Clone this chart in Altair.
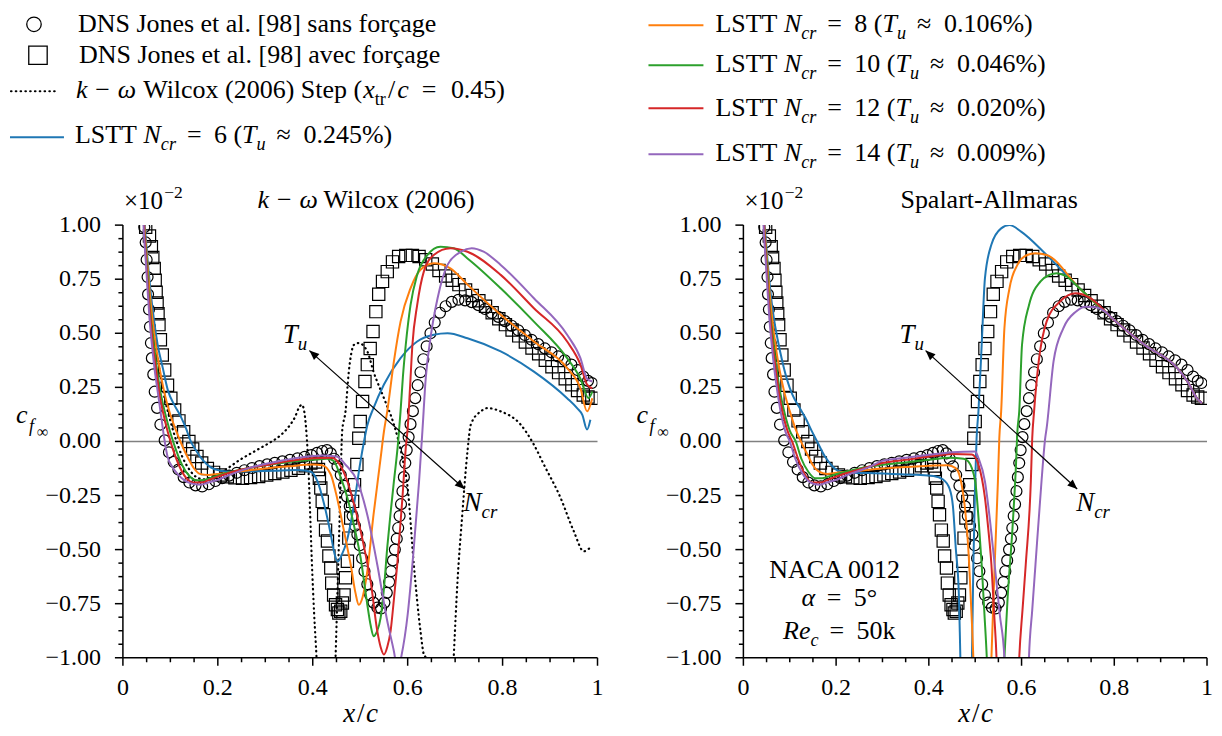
import math
import altair as alt
import pandas as pd

FONT = "Liberation Serif"
PW_L, PW_R, PH = 475, 464, 433

# ---------------- DNS Jones et al. (same in both panels) ----------------
circ_x = [0.045, 0.048, 0.050, 0.052, 0.053, 0.055, 0.057, 0.059, 0.061, 0.064, 0.067, 0.072, 0.079, 0.088,
          0.097, 0.107, 0.117, 0.128, 0.140, 0.153, 0.167, 0.181, 0.195, 0.209, 0.224, 0.240, 0.256, 0.272,
          0.288, 0.304, 0.320, 0.336, 0.352, 0.368, 0.383, 0.397, 0.409, 0.420, 0.430, 0.438, 0.445, 0.452,
          0.459, 0.466, 0.472, 0.478, 0.484, 0.489, 0.494, 0.499, 0.504, 0.509, 0.515, 0.521, 0.528, 0.536,
          0.544, 0.551, 0.556, 0.561, 0.565, 0.569, 0.573, 0.577, 0.580, 0.583, 0.586, 0.589, 0.592, 0.595,
          0.598, 0.602, 0.606, 0.611, 0.616, 0.621, 0.627, 0.633, 0.640, 0.648, 0.657, 0.668, 0.680, 0.693,
          0.707, 0.721, 0.735, 0.749, 0.763, 0.777, 0.791, 0.805, 0.819, 0.833, 0.847, 0.861, 0.875, 0.889,
          0.903, 0.917, 0.931, 0.945, 0.958, 0.970, 0.980, 0.988]
circ_y = [0.99, 0.92, 0.84, 0.76, 0.68, 0.61, 0.53, 0.455, 0.385, 0.31, 0.23, 0.155, 0.078, 0.005,
          -0.05, -0.095, -0.13, -0.165, -0.19, -0.203, -0.208, -0.198, -0.183, -0.17, -0.158, -0.145, -0.133, -0.123,
          -0.114, -0.106, -0.099, -0.092, -0.085, -0.078, -0.071, -0.063, -0.053, -0.044, -0.04, -0.055, -0.08, -0.115,
          -0.155, -0.205, -0.255, -0.30, -0.345, -0.39, -0.43, -0.48, -0.54, -0.60, -0.66, -0.71, -0.745, -0.768,
          -0.772, -0.745, -0.70, -0.65, -0.60, -0.55, -0.50, -0.45, -0.40, -0.345, -0.29, -0.23, -0.165, -0.10,
          -0.04, 0.02, 0.08, 0.14, 0.20, 0.26, 0.32, 0.38, 0.44, 0.50, 0.55, 0.595, 0.625, 0.645,
          0.655, 0.652, 0.644, 0.63, 0.612, 0.594, 0.576, 0.556, 0.535, 0.514, 0.492, 0.47, 0.45, 0.43,
          0.412, 0.393, 0.375, 0.355, 0.33, 0.30, 0.28, 0.27]

sq_x = [0.048, 0.056, 0.060, 0.063, 0.066, 0.068, 0.070, 0.072, 0.074, 0.076, 0.079, 0.083, 0.088, 0.094,
        0.101, 0.109, 0.118, 0.128, 0.139, 0.147, 0.156, 0.166, 0.178, 0.191, 0.205, 0.220, 0.236, 0.252,
        0.269, 0.286, 0.303, 0.320, 0.337, 0.354, 0.370, 0.384, 0.396, 0.406, 0.412, 0.414, 0.417, 0.420,
        0.423, 0.427, 0.431, 0.434, 0.438, 0.440, 0.444, 0.448, 0.452, 0.455, 0.459, 0.4625, 0.466, 0.469,
        0.473, 0.476, 0.480, 0.484, 0.488, 0.493, 0.497, 0.500, 0.505, 0.510, 0.515, 0.521, 0.527, 0.533,
        0.539, 0.547, 0.557, 0.568, 0.581, 0.596, 0.610, 0.624, 0.638, 0.652, 0.666, 0.680, 0.694, 0.708,
        0.722, 0.736, 0.750, 0.764, 0.778, 0.792, 0.806, 0.820, 0.834, 0.848, 0.862, 0.876, 0.890, 0.904,
        0.918, 0.932, 0.946, 0.958, 0.970, 0.980, 0.988]
sq_y = [0.99, 0.95, 0.90, 0.85, 0.80, 0.745, 0.69, 0.64, 0.59, 0.54, 0.47, 0.40, 0.33, 0.26,
        0.20, 0.145, 0.095, 0.045, 0.0, -0.035, -0.07, -0.10, -0.125, -0.143, -0.155, -0.163, -0.168, -0.17,
        -0.167, -0.162, -0.155, -0.148, -0.141, -0.133, -0.124, -0.112, -0.10, -0.095, -0.13, -0.17, -0.215, -0.277,
        -0.339, -0.41, -0.46, -0.53, -0.585, -0.655, -0.71, -0.755, -0.777, -0.793, -0.785, -0.747, -0.71, -0.63,
        -0.554, -0.447, -0.354, -0.277, -0.20, -0.107, 0.015, 0.092, 0.185, 0.277, 0.355, 0.43, 0.508, 0.60,
        0.68, 0.74, 0.785, 0.83, 0.855, 0.86, 0.86, 0.855, 0.84, 0.82, 0.79, 0.765, 0.745, 0.725,
        0.70, 0.675, 0.65, 0.625, 0.595, 0.567, 0.54, 0.515, 0.488, 0.46, 0.432, 0.405, 0.375, 0.345,
        0.318, 0.29, 0.262, 0.235, 0.215, 0.205, 0.20]

# ---------------- k-omega Wilcox (2006), left panel ----------------
step_x = [0.040, 0.046, 0.051, 0.056, 0.062, 0.069, 0.077, 0.086, 0.097, 0.110, 0.125, 0.140, 0.155, 0.170,
          0.190, 0.210, 0.230, 0.250, 0.270, 0.290, 0.310, 0.333, 0.350, 0.362, 0.372, 0.377, 0.382, 0.386,
          0.390, 0.394, 0.398, 0.403, 0.408, 0.412, 0.444, 0.448, 0.452, 0.456, 0.459, 0.462, 0.469, 0.476,
          0.487, 0.497, 0.515, 0.528, 0.550, 0.571, 0.589, 0.600, 0.613, 0.627, 0.634, 0.638, 0.642, 0.693,
          0.697, 0.705, 0.715, 0.726, 0.733, 0.754, 0.768, 0.796, 0.838, 0.866, 0.887, 0.922, 0.950, 0.971, 0.985]
step_y = [1.20, 0.97, 0.84, 0.70, 0.57, 0.45, 0.33, 0.22, 0.12, 0.02, -0.07, -0.13, -0.165, -0.175,
          -0.16, -0.14, -0.11, -0.08, -0.055, -0.03, -0.005, 0.03, 0.07, 0.11, 0.16, 0.17, 0.14, 0.06,
          -0.08, -0.30, -0.55, -0.80, -1.00, -1.20, -1.20, -1.00, -0.70, -0.40, -0.15, 0.046, 0.139, 0.323,
          0.447, 0.455, 0.416, 0.323, 0.20, 0.078, -0.077, -0.215, -0.57, -0.877, -0.985, -1.00, -1.20, -1.20,
          -1.00, -0.647, -0.34, -0.046, 0.078, 0.139, 0.154, 0.139, 0.078, -0.015, -0.107, -0.26, -0.415, -0.508, -0.49]

kw6_x = [0.040, 0.047, 0.052, 0.058, 0.065, 0.073, 0.084, 0.095, 0.108, 0.122, 0.133, 0.143, 0.155, 0.168,
         0.185, 0.205, 0.230, 0.270, 0.320, 0.370, 0.396, 0.410, 0.424, 0.438, 0.446, 0.453, 0.460, 0.473,
         0.487, 0.500, 0.508, 0.515, 0.528, 0.550, 0.585, 0.620, 0.655, 0.684, 0.726, 0.796, 0.866, 0.936,
         0.957, 0.968, 0.978, 0.985]
kw6_y = [1.20, 0.97, 0.84, 0.70, 0.57, 0.45, 0.34, 0.235, 0.17, 0.115, 0.06, 0.0, -0.045, -0.085,
         -0.12, -0.135, -0.14, -0.138, -0.135, -0.132, -0.14, -0.185, -0.29, -0.43, -0.52, -0.555, -0.53, -0.45,
         -0.29, -0.10, 0.0, 0.075, 0.154, 0.263, 0.385, 0.462, 0.493, 0.50, 0.477, 0.416, 0.323, 0.20,
         0.154, 0.123, 0.055, 0.10]
kw8_x = [0.040, 0.046, 0.051, 0.056, 0.062, 0.069, 0.078, 0.088, 0.099, 0.112, 0.125, 0.138, 0.150, 0.162,
         0.180, 0.200, 0.250, 0.300, 0.350, 0.400, 0.420, 0.438, 0.449, 0.459, 0.470, 0.480, 0.490, 0.497,
         0.505, 0.515, 0.528, 0.536, 0.543, 0.550, 0.557, 0.571, 0.585, 0.606, 0.627, 0.655, 0.690, 0.726,
         0.796, 0.866, 0.936, 0.964, 0.978, 0.989]
kw8_y = [1.20, 0.97, 0.84, 0.70, 0.57, 0.45, 0.33, 0.22, 0.13, 0.05, -0.02, -0.08, -0.125, -0.15,
         -0.155, -0.15, -0.138, -0.125, -0.115, -0.107, -0.11, -0.153, -0.24, -0.34, -0.46, -0.57, -0.70, -0.755,
         -0.72, -0.60, -0.34, -0.20, -0.077, 0.046, 0.139, 0.37, 0.554, 0.708, 0.794, 0.824, 0.80, 0.725,
         0.586, 0.462, 0.339, 0.246, 0.139, 0.20]
kw10_x = [0.040, 0.045, 0.050, 0.054, 0.059, 0.065, 0.072, 0.080, 0.089, 0.100, 0.112, 0.125, 0.140, 0.155,
          0.170, 0.190, 0.220, 0.260, 0.300, 0.350, 0.400, 0.430, 0.444, 0.458, 0.473, 0.487, 0.501, 0.515,
          0.522, 0.528, 0.535, 0.543, 0.550, 0.557, 0.564, 0.571, 0.580, 0.585, 0.590, 0.596, 0.606, 0.620,
          0.641, 0.669, 0.697, 0.726, 0.796, 0.866, 0.936, 0.964, 0.981, 0.989]
kw10_y = [1.20, 0.97, 0.84, 0.70, 0.57, 0.45, 0.33, 0.22, 0.13, 0.04, -0.04, -0.11, -0.16, -0.18,
          -0.178, -0.165, -0.145, -0.125, -0.11, -0.095, -0.085, -0.08, -0.09, -0.16, -0.26, -0.39, -0.54, -0.755,
          -0.85, -0.90, -0.88, -0.816, -0.68, -0.49, -0.33, -0.185, 0.0, 0.139, 0.30, 0.447, 0.63, 0.77,
          0.86, 0.90, 0.893, 0.846, 0.708, 0.554, 0.385, 0.29, 0.20, 0.23]
kw12_x = [0.040, 0.045, 0.049, 0.053, 0.058, 0.063, 0.070, 0.077, 0.085, 0.095, 0.106, 0.118, 0.132, 0.148,
          0.165, 0.185, 0.210, 0.250, 0.300, 0.350, 0.400, 0.440, 0.455, 0.473, 0.487, 0.501, 0.512, 0.522,
          0.536, 0.543, 0.550, 0.557, 0.564, 0.571, 0.578, 0.589, 0.596, 0.600, 0.605, 0.610, 0.620, 0.634,
          0.655, 0.690, 0.726, 0.796, 0.866, 0.936, 0.964, 0.978, 0.989]
kw12_y = [1.20, 0.97, 0.84, 0.70, 0.57, 0.45, 0.33, 0.22, 0.13, 0.04, -0.04, -0.11, -0.165, -0.19,
          -0.19, -0.175, -0.155, -0.13, -0.11, -0.09, -0.078, -0.075, -0.10, -0.185, -0.29, -0.415, -0.53, -0.647,
          -0.877, -0.95, -0.985, -0.95, -0.877, -0.73, -0.57, -0.26, -0.03, 0.06, 0.25, 0.447, 0.63, 0.785,
          0.862, 0.893, 0.877, 0.77, 0.616, 0.462, 0.355, 0.263, 0.246]
kw14_x = [0.040, 0.044, 0.048, 0.052, 0.056, 0.061, 0.067, 0.074, 0.081, 0.087, 0.094, 0.105, 0.115, 0.130,
          0.145, 0.164, 0.180, 0.200, 0.230, 0.270, 0.320, 0.370, 0.420, 0.450, 0.470, 0.494, 0.515, 0.536,
          0.557, 0.571, 0.579, 0.587, 0.600, 0.613, 0.624, 0.631, 0.638, 0.648, 0.663, 0.684, 0.712, 0.735,
          0.760, 0.796, 0.866, 0.936, 0.964, 0.978, 0.989]
kw14_y = [1.20, 0.97, 0.84, 0.70, 0.57, 0.45, 0.33, 0.22, 0.11, 0.015, -0.07, -0.12, -0.15, -0.18,
          -0.195, -0.20, -0.19, -0.177, -0.15, -0.12, -0.095, -0.075, -0.065, -0.07, -0.11, -0.185, -0.34, -0.57,
          -0.83, -0.97, -1.06, -0.99, -0.80, -0.49, -0.185, 0.046, 0.29, 0.477, 0.662, 0.816, 0.877, 0.893,
          0.877, 0.816, 0.662, 0.493, 0.385, 0.29, 0.277]

# ---------------- Spalart-Allmaras, right panel ----------------
sa6_x = [0.040, 0.047, 0.052, 0.058, 0.065, 0.074, 0.084, 0.095, 0.105, 0.120, 0.134, 0.147, 0.159, 0.176,
         0.190, 0.204, 0.230, 0.270, 0.320, 0.373, 0.410, 0.430, 0.445, 0.452, 0.458, 0.465, 0.468, 0.472,
         0.489, 0.493, 0.496, 0.500, 0.503, 0.507, 0.514, 0.521, 0.535, 0.556, 0.574, 0.599, 0.654, 0.725,
         0.795, 0.865, 0.936, 0.960, 0.978, 0.989]
sa6_y = [1.20, 0.97, 0.84, 0.70, 0.58, 0.47, 0.37, 0.28, 0.22, 0.16, 0.108, 0.05, 0.0, -0.07,
         -0.11, -0.135, -0.145, -0.146, -0.15, -0.154, -0.16, -0.175, -0.22, -0.30, -0.49, -0.72, -1.0, -1.3,
         -1.3, -1.0, -0.57, -0.185, 0.015, 0.139, 0.447, 0.754, 0.91, 0.985, 1.0, 0.97, 0.862, 0.708,
         0.57, 0.447, 0.339, 0.27, 0.20, 0.177]
sa8_x = [0.040, 0.046, 0.051, 0.056, 0.062, 0.069, 0.078, 0.088, 0.100, 0.112, 0.124, 0.138, 0.150, 0.163,
         0.180, 0.200, 0.250, 0.300, 0.350, 0.400, 0.440, 0.458, 0.472, 0.479, 0.485, 0.491, 0.496, 0.500,
         0.530, 0.535, 0.542, 0.549, 0.552, 0.556, 0.563, 0.574, 0.591, 0.612, 0.630, 0.654, 0.725, 0.795,
         0.865, 0.936, 0.960, 0.978, 0.989]
sa8_y = [1.20, 0.97, 0.84, 0.70, 0.57, 0.45, 0.33, 0.23, 0.14, 0.06, 0.0, -0.06, -0.11, -0.14,
         -0.15, -0.145, -0.135, -0.125, -0.118, -0.112, -0.11, -0.123, -0.215, -0.33, -0.49, -0.75, -1.0, -1.3,
         -1.3, -1.0, -0.57, -0.185, 0.015, 0.139, 0.523, 0.708, 0.816, 0.862, 0.87, 0.862, 0.708, 0.57,
         0.447, 0.339, 0.27, 0.20, 0.177]
sa10_x = [0.040, 0.045, 0.050, 0.054, 0.059, 0.065, 0.072, 0.080, 0.089, 0.100, 0.113, 0.125, 0.140, 0.155,
          0.170, 0.190, 0.220, 0.260, 0.300, 0.350, 0.400, 0.444, 0.475, 0.485, 0.500, 0.507, 0.514, 0.520,
          0.525, 0.530, 0.557, 0.563, 0.570, 0.580, 0.588, 0.591, 0.595, 0.601, 0.616, 0.641, 0.660, 0.676,
          0.695, 0.725, 0.795, 0.865, 0.936, 0.960, 0.978, 0.989]
sa10_y = [1.20, 0.97, 0.84, 0.70, 0.57, 0.45, 0.33, 0.22, 0.13, 0.05, 0.0, -0.08, -0.14, -0.17,
          -0.17, -0.158, -0.14, -0.12, -0.108, -0.097, -0.085, -0.075, -0.08, -0.092, -0.185, -0.35, -0.57, -0.80,
          -1.0, -1.3, -1.3, -1.0, -0.72, -0.415, -0.107, 0.046, 0.139, 0.447, 0.63, 0.74, 0.77, 0.778,
          0.765, 0.708, 0.57, 0.447, 0.339, 0.27, 0.20, 0.177]
sa12_x = [0.040, 0.045, 0.049, 0.053, 0.058, 0.063, 0.070, 0.077, 0.085, 0.095, 0.105, 0.118, 0.132, 0.148,
          0.165, 0.185, 0.210, 0.250, 0.300, 0.350, 0.400, 0.450, 0.493, 0.507, 0.521, 0.528, 0.535, 0.541,
          0.546, 0.550, 0.590, 0.595, 0.602, 0.609, 0.620, 0.623, 0.627, 0.637, 0.654, 0.683, 0.717, 0.746,
          0.795, 0.865, 0.936, 0.960, 0.978, 0.989]
sa12_y = [1.20, 0.97, 0.84, 0.70, 0.57, 0.45, 0.33, 0.22, 0.13, 0.05, 0.0, -0.08, -0.15, -0.19,
          -0.19, -0.175, -0.155, -0.13, -0.10, -0.085, -0.07, -0.058, -0.06, -0.107, -0.26, -0.40, -0.57, -0.80,
          -1.0, -1.3, -1.3, -1.0, -0.78, -0.57, -0.185, 0.015, 0.139, 0.37, 0.554, 0.647, 0.685, 0.666,
          0.57, 0.447, 0.339, 0.27, 0.20, 0.177]
sa14_x = [0.040, 0.044, 0.048, 0.052, 0.056, 0.061, 0.067, 0.074, 0.081, 0.090, 0.100, 0.112, 0.128, 0.145,
          0.164, 0.180, 0.200, 0.230, 0.270, 0.300, 0.350, 0.400, 0.450, 0.500, 0.507, 0.521, 0.530, 0.542,
          0.553, 0.563, 0.567, 0.612, 0.616, 0.623, 0.630, 0.643, 0.651, 0.654, 0.669, 0.690, 0.717, 0.738,
          0.760, 0.780, 0.795, 0.865, 0.936, 0.960, 0.978, 0.989]
sa14_y = [1.20, 0.97, 0.84, 0.70, 0.57, 0.45, 0.33, 0.22, 0.13, 0.05, 0.0, -0.08, -0.15, -0.19,
          -0.20, -0.19, -0.177, -0.15, -0.12, -0.09, -0.075, -0.062, -0.05, -0.046, -0.077, -0.185, -0.33, -0.57,
          -0.80, -1.0, -1.3, -1.3, -1.0, -0.78, -0.57, -0.185, 0.015, 0.06, 0.37, 0.523, 0.60, 0.623,
          0.62, 0.60, 0.57, 0.447, 0.339, 0.27, 0.20, 0.177]

series_names = ["Ncr6", "Ncr8", "Ncr10", "Ncr12", "Ncr14"]
series_colors = ["#1f77b4", "#ff7f0e", "#2ca02c", "#d62728", "#9467bd"]
legend_ncr = ["6", "8", "10", "12", "14"]
legend_tu = ["0.245", "0.106", "0.046", "0.020", "0.009"]

# Tu / Ncr arrow (data coordinates)
arrow_tip_tu = (0.393, 0.42)
arrow_tip_ncr = (0.72, -0.22)

# axis ticks and tick labels
Y_MAJOR = [-1.0, -0.75, -0.5, -0.25, 0.0, 0.25, 0.5, 0.75, 1.0]
Y_LABELS = ["−1.00", "−0.75", "−0.50", "−0.25", "0.00", "0.25", "0.50", "0.75", "1.00"]
Y_MINOR = [-0.9375, -0.875, -0.8125, -0.6875, -0.625, -0.5625, -0.4375, -0.375, -0.3125,
           -0.1875, -0.125, -0.0625, 0.0625, 0.125, 0.1875, 0.3125, 0.375, 0.4375,
           0.5625, 0.625, 0.6875, 0.8125, 0.875, 0.9375]
X_MAJOR = [0.0, 0.2, 0.4, 0.6, 0.8, 1.0]
X_LABELS = ["0", "0.2", "0.4", "0.6", "0.8", "1"]
X_MINOR = [0.05, 0.1, 0.15, 0.25, 0.3, 0.35, 0.45, 0.5, 0.55, 0.65, 0.7, 0.75, 0.85, 0.9, 0.95]

# ---------------- helpers ----------------
REG = {' ': 0.25, '%': 0.833, '(': 0.333, ')': 0.333, '-': 0.333, '.': 0.25, '/': 0.278, '=': 0.62,
       '[': 0.333, ']': 0.333, 'A': 0.722, 'C': 0.667, 'D': 0.722, 'J': 0.389, 'L': 0.611, 'N': 0.722,
       'S': 0.556, 'T': 0.611, 'W': 0.944, 'a': 0.444, 'c': 0.444, 'e': 0.444, 'f': 0.333, 'g': 0.5,
       'i': 0.278, 'k': 0.5, 'l': 0.278, 'm': 0.778, 'n': 0.5, 'o': 0.5, 'p': 0.5, 'r': 0.333, 's': 0.389,
       't': 0.278, 'v': 0.5, 'x': 0.5, 'ç': 0.444, '≈': 0.62, '−': 0.564, '°': 0.4, '×': 0.564, '∞': 0.713}
for d in "0123456789":
    REG[d] = 0.5
ITA = {'k': 0.444, 'N': 0.667, 'c': 0.444, 'r': 0.389, 'T': 0.556, 'u': 0.5, 'x': 0.444, 'R': 0.611,
       'e': 0.444, 'f': 0.278, 'α': 0.55, 'ω': 0.68}


def tw(t, it):
    tb = ITA if it else REG
    return sum(tb.get(c, REG.get(c, 0.5)) for c in t)


def rich(parts, x0, y0, fs, center=False):
    items, x = [], 0.0
    for content, st in parts:
        if st == 'gap':
            x += content * fs
            continue
        it = st in ('i', 'is', 'isup')
        small = st in ('rs', 'is', 'rsup', 'isup')
        s = fs * 0.7 if small else fs
        dy = 0.26 * fs if st in ('rs', 'is') else (-0.45 * fs if st in ('rsup', 'isup') else 0.0)
        lead = len(content) - len(content.lstrip(' '))
        x += lead * 0.25 * s
        body = content.lstrip(' ')
        items.append(dict(px=x, py=y0 + dy, txt=body.strip(' '), fs=s, it=it))
        x += tw(body, it) * s
    shift = x0 - (x / 2 if center else 0)
    for r in items:
        r['px'] += shift
    return items


LF = 26  # legend font size


def lstt_parts(n, tu):
    return [("LSTT", 'r'), (0.25, 'gap'), ("N", 'i'), ("cr", 'is'), (0.42, 'gap'), ("=", 'r'),
            (0.42, 'gap'), (n, 'r'), (0.25, 'gap'), ("(", 'r'), ("T", 'i'), ("u", 'is'), (0.42, 'gap'),
            ("≈", 'r'), (0.42, 'gap'), (tu + "%)", 'r')]


def common_texts(pw):
    k = pw / 475.0
    rows = []
    rows += rich([("×10", 'r'), (0.05, 'gap'), ("−2", 'rsup')], 1, -16, 25)
    rows += [dict(px=-107, py=198, txt="c", fs=26, it=True),
             dict(px=-94, py=207, txt="f", fs=18, it=True),
             dict(px=-86, py=212, txt="∞", fs=16, it=False)]
    rows += rich([("T", 'i'), ("u", 'is')], 160 * k, 118, 27)
    rows += rich([("N", 'i'), ("cr", 'is')], 341 * k, 286, 27)
    rows += rich([("x", 'i'), (0.06, 'gap'), ("/", 'r'), (0.06, 'gap'), ("c", 'i')], 238 * k, 497, 27,
                 center=True)
    return rows


def text_layers(rows):
    df = pd.DataFrame(rows)
    base = alt.Chart(df)
    enc = dict(x=alt.X('px:Q', scale=None, axis=None), y=alt.Y('py:Q', scale=None, axis=None),
               text='txt:N', size=alt.Size('fs:Q', scale=None, legend=None))
    up = base.transform_filter('!datum.it').mark_text(
        align='left', baseline='alphabetic', font=FONT, color='black').encode(**enc)
    it = base.transform_filter('datum.it').mark_text(
        align='left', baseline='alphabetic', font=FONT, fontStyle='italic', color='black').encode(**enc)
    return [up, it]


XS = alt.Scale(domain=[0, 1], nice=False, zero=False)
YS = alt.Scale(domain=[-1, 1], nice=False, zero=False)

ARROW = "M0,0L-1,-0.42L-1,0.42Z"
DOT = [0.5, 4.3]


def X(f='x'):
    return alt.X(f + ':Q', scale=XS, axis=None)


def Y(f='y'):
    return alt.Y(f + ':Q', scale=YS, axis=None)


def axis_layers(pw):
    one = pd.DataFrame({'d': [0]})
    lay = []
    lay.append(alt.Chart(one).mark_rule(color='black', strokeWidth=1.5)
               .encode(x=alt.value(0), y=alt.value(0), y2=alt.value(PH)))
    lay.append(alt.Chart(one).mark_rule(color='black', strokeWidth=1.5)
               .encode(x=alt.value(0), x2=alt.value(pw), y=alt.value(PH)))
    lay.append(alt.Chart(pd.DataFrame({'y': Y_MAJOR})).mark_rule(color='black', strokeWidth=1.5)
               .encode(y=Y(), x=alt.value(-8), x2=alt.value(0)))
    lay.append(alt.Chart(pd.DataFrame({'y': Y_MINOR})).mark_rule(color='black', strokeWidth=1.5)
               .encode(y=Y(), x=alt.value(-4.5), x2=alt.value(0)))
    lay.append(alt.Chart(pd.DataFrame({'y': Y_MAJOR, 'lab': Y_LABELS}))
               .mark_text(align='right', baseline='middle', font=FONT, fontSize=24, color='black')
               .encode(y=Y(), x=alt.value(-22), text='lab:N'))
    lay.append(alt.Chart(pd.DataFrame({'x': X_MAJOR})).mark_rule(color='black', strokeWidth=1.5)
               .encode(x=X(), y=alt.value(PH), y2=alt.value(PH + 8)))
    lay.append(alt.Chart(pd.DataFrame({'x': X_MINOR})).mark_rule(color='black', strokeWidth=1.5)
               .encode(x=X(), y=alt.value(PH), y2=alt.value(PH + 4.5)))
    lay.append(alt.Chart(pd.DataFrame({'x': X_MAJOR, 'lab': X_LABELS}))
               .mark_text(align='center', baseline='middle', font=FONT, fontSize=24, color='black')
               .encode(x=X(), y=alt.value(PH + 30), text='lab:N'))
    return lay


def panel(pw, line_sets, dotted, rows, legend_rules, legend_syms, anchor=False):
    circ_df = pd.DataFrame({'x': circ_x, 'y': circ_y})
    sq_df = pd.DataFrame({'x': sq_x, 'y': sq_y})
    frames = []
    for name, xs, ys in line_sets:
        frames.append(pd.DataFrame({'x': xs, 'y': ys, 'series': name}))
    lines_df = pd.concat(frames, ignore_index=True)

    layers = []
    layers.append(alt.Chart(pd.DataFrame({'y': [0.0]})).mark_rule(color='#808080', strokeWidth=1.5)
                  .encode(y=Y()))
    layers.append(alt.Chart(circ_df).mark_point(shape='circle', filled=False, size=120, color='black',
                                                strokeWidth=1.2, opacity=1, clip=True)
                  .encode(x=X(), y=Y()))
    layers.append(alt.Chart(sq_df).mark_point(shape='square', filled=False, size=150, color='black',
                                              strokeWidth=1.2, opacity=1, clip=True)
                  .encode(x=X(), y=Y()))
    if dotted is not None:
        layers.append(alt.Chart(pd.DataFrame({'x': dotted[0], 'y': dotted[1]}))
                      .mark_line(color='black', strokeWidth=2.2, strokeDash=DOT, strokeCap='round',
                                 clip=True, interpolate='monotone')
                      .encode(x=X(), y=Y()))
    layers.append(alt.Chart(lines_df).mark_line(strokeWidth=2, clip=True, interpolate='monotone')
                  .encode(x=X(), y=Y(),
                          color=alt.Color('series:N', scale=alt.Scale(domain=series_names, range=series_colors),
                                          legend=None)))
    arr = pd.DataFrame({'x1': [arrow_tip_tu[0]], 'y1': [arrow_tip_tu[1]],
                        'x2': [arrow_tip_ncr[0]], 'y2': [arrow_tip_ncr[1]]})
    layers.append(alt.Chart(arr).mark_rule(color='black', strokeWidth=1.2)
                  .encode(x=X('x1'), y=Y('y1'), x2='x2:Q', y2='y2:Q'))
    dxp = (arrow_tip_ncr[0] - arrow_tip_tu[0]) * pw
    dyp = -(arrow_tip_ncr[1] - arrow_tip_tu[1]) * PH / 2
    ang = math.degrees(math.atan2(dyp, dxp))
    heads = pd.DataFrame({'x': [arrow_tip_ncr[0], arrow_tip_tu[0]], 'y': [arrow_tip_ncr[1], arrow_tip_tu[1]],
                          'ang': [ang, ang + 180]})
    layers.append(alt.Chart(heads).mark_point(shape=ARROW, filled=True, size=380, color='black', opacity=1)
                  .encode(x=X(), y=Y(), angle=alt.Angle('ang:Q', scale=None)))
    layers += axis_layers(pw)

    lr = pd.DataFrame(legend_rules)
    solid = lr[lr['dash'] == 0]
    if len(solid):
        layers.append(alt.Chart(solid).mark_rule(strokeWidth=2)
                      .encode(x=alt.X('a:Q', scale=None, axis=None), x2='b:Q',
                              y=alt.Y('yy:Q', scale=None, axis=None), color=alt.Color('col:N', scale=None)))
    dashed = lr[lr['dash'] == 1]
    if len(dashed):
        layers.append(alt.Chart(dashed).mark_rule(strokeWidth=2.2, strokeDash=DOT, strokeCap='round',
                                                  color='black')
                      .encode(x=alt.X('a:Q', scale=None, axis=None), x2='b:Q',
                              y=alt.Y('yy:Q', scale=None, axis=None)))
    for shp, sz, px, py in legend_syms:
        layers.append(alt.Chart(pd.DataFrame({'px': [px], 'py': [py]}))
                      .mark_point(shape=shp, filled=False, size=sz, color='black', strokeWidth=1.3, opacity=1)
                      .encode(x=alt.X('px:Q', scale=None, axis=None), y=alt.Y('py:Q', scale=None, axis=None)))
    if anchor:
        layers.append(alt.Chart(pd.DataFrame({'a': [-114], 'b': [-114], 'p': [-222], 'q': [-221]}))
                      .mark_rule(opacity=0, strokeWidth=0)
                      .encode(x=alt.X('a:Q', scale=None, axis=None), x2='b:Q',
                              y=alt.Y('p:Q', scale=None, axis=None), y2='q:Q'))
    layers += text_layers(rows)
    return alt.layer(*layers).properties(width=pw, height=PH)


# ----- left panel texts & legend -----
left_rows = common_texts(PW_L)
left_rows += rich([("k", 'i'), (0.3, 'gap'), ("−", 'r'), (0.3, 'gap'), ("ω", 'i'), (0.25, 'gap'),
                   ("Wilcox (2006)", 'r')], 244, -17, 26, center=True)
left_rows += rich([("DNS Jones et al. [98] sans forçage", 'r')], -45, -193, LF)
left_rows += rich([("DNS Jones et al. [98] avec forçage", 'r')], -44, -162, LF)
left_rows += rich([("k", 'i'), (0.3, 'gap'), ("−", 'r'), (0.3, 'gap'), ("ω", 'i'), (0.3, 'gap'),
                   ("Wilcox (2006) Step (", 'r'), ("x", 'i'), ("tr", 'rs'), (0.08, 'gap'), ("/", 'r'),
                   (0.08, 'gap'), ("c", 'i'), (0.5, 'gap'), ("=", 'r'), (0.5, 'gap'), ("0.45)", 'r')],
                  -47, -127, LF)
left_rows += rich(lstt_parts(legend_ncr[0], legend_tu[0]), -48, -82, LF)
left_legend_rules = [dict(a=-112, b=-65, yy=-134, col='black', dash=1),
                     dict(a=-113, b=-59, yy=-88, col=series_colors[0], dash=0)]
left_legend_syms = [('circle', 210, -89, -201), ('square', 340, -85, -170)]

# ----- right panel texts & legend -----
right_rows = common_texts(PW_R)
right_rows += rich([("Spalart-Allmaras", 'r')], 246, -17, 26, center=True)
right_base = [-193, -153, -109, -64]
right_line = [-200, -160, -117, -71]
right_legend_rules = []
for i in range(4):
    right_rows += rich(lstt_parts(legend_ncr[i + 1], legend_tu[i + 1]), -28, right_base[i], LF)
    right_legend_rules.append(dict(a=-95, b=-40, yy=right_line[i], col=series_colors[i + 1], dash=0))
right_rows += rich([("NACA 0012", 'r')], 92, 353, 26, center=True)
right_rows += rich([("α", 'i'), (0.42, 'gap'), ("=", 'r'), (0.42, 'gap'), ("5°", 'r')], 96, 381, 26, center=True)
right_rows += rich([("Re", 'i'), ("c", 'is'), (0.42, 'gap'), ("=", 'r'), (0.42, 'gap'), ("50k", 'r')],
                   96, 414, 26, center=True)

left = panel(PW_L, [("Ncr6", kw6_x, kw6_y), ("Ncr8", kw8_x, kw8_y), ("Ncr10", kw10_x, kw10_y),
                    ("Ncr12", kw12_x, kw12_y), ("Ncr14", kw14_x, kw14_y)],
             (step_x, step_y), left_rows, left_legend_rules, left_legend_syms, anchor=True)
right = panel(PW_R, [("Ncr6", sa6_x, sa6_y), ("Ncr8", sa8_x, sa8_y), ("Ncr10", sa10_x, sa10_y),
                     ("Ncr12", sa12_x, sa12_y), ("Ncr14", sa14_x, sa14_y)],
              None, right_rows, right_legend_rules, [])

chart = alt.hconcat(left, right, spacing=146).properties(
    bounds='flush', background='white',
    padding={"left": 0, "top": -6, "right": 0, "bottom": 0}
).configure_view(stroke='transparent')

chart.save("out.html", embed_options={"renderer": "svg", "actions": False})
